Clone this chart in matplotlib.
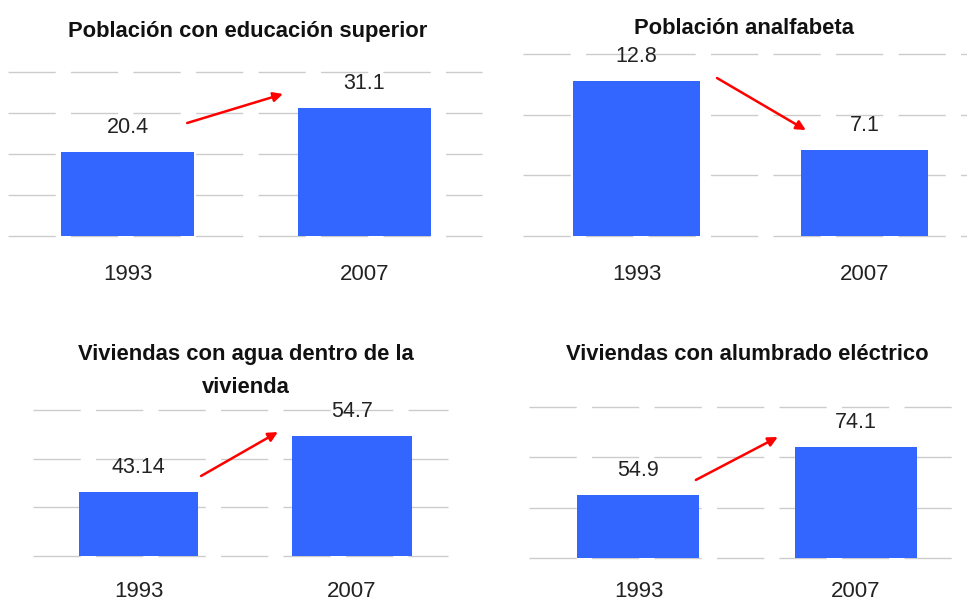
import numpy as np
import matplotlib
matplotlib.use('Agg')
import matplotlib.pyplot as plt

years = ['1993', '2007']
titles = ['Población con educación superior',
          'Población analfabeta',
          'Viviendas con agua dentro de la\nvivienda',
          'Viviendas con alumbrado eléctrico']
educ_superior = [20.4, 31.1]
analfabeta = [12.8, 7.1]
agua_vivienda = [43.14, 54.7]
alumbrado = [54.9, 74.1]
value_labels = [['20.4', '31.1'], ['12.8', '7.1'], ['43.14', '54.7'], ['54.9', '74.1']]

BAR = '#3366ff'
GRID = '#cccccc'
NARROW = ['Liberation Sans Narrow', 'Liberation Sans', 'DejaVu Sans']

W, H = 967, 603
fig = plt.figure(figsize=(W / 100, H / 100), dpi=100)

# panel layout in pixels: (left, top, right, bottom), y range, tick step, x limits
panels = [
    dict(vals=educ_superior, rect=(8, 72, 482, 236), ylim=(0, 40), step=10, xlim=(-0.504, 1.496),
         arrow=((0.378, 0.689), (0.580, 0.866)), title_xy=(248, 37), year_pad=31.5),
    dict(vals=analfabeta, rect=(523, 54, 967, 236), ylim=(0, 15), step=5, xlim=(-0.498, 1.45),
         arrow=((0.437, 0.868), (0.637, 0.582)), title_xy=(744, 34), year_pad=31.5),
    dict(vals=agua_vivienda, rect=(33, 410, 448, 556), ylim=(30, 60), step=10, xlim=(-0.494, 1.45),
         arrow=((0.405, 0.548), (0.590, 0.849)), title_xy=(246, 360), year_pad=29.5),
    dict(vals=alumbrado, rect=(529, 407, 967, 558), ylim=(30, 90), step=20, xlim=(-0.503, 1.51),
         arrow=((0.381, 0.517), (0.568, 0.801)), title_xy=(747, 360), year_pad=28.0),
]

for k, p in enumerate(panels):
    l, t, r, b = p['rect']
    ax = fig.add_axes([l / W, 1 - b / H, (r - l) / W, (b - t) / H])
    ax.set_xlim(*p['xlim'])
    ax.set_ylim(*p['ylim'])
    for s in ax.spines.values():
        s.set_visible(False)
    ax.set_xticks([])
    ax.set_yticks([])
    for yv in np.arange(p['ylim'][0], p['ylim'][1] + p['step'] / 2, p['step']):
        ax.axhline(yv, color=GRID, lw=1.0, dashes=(34, 11), zorder=0, clip_on=False)

    x = np.arange(len(years))
    ax.bar(x, p['vals'], width=0.561, bottom=0, color=BAR, zorder=2)

    for i, v in enumerate(p['vals']):
        ax.annotate(value_labels[k][i], xy=(i, v), xytext=(0, 13.7), textcoords='offset points',
                    ha='center', va='baseline', fontsize=15.5, family=NARROW, color='#222222',
                    annotation_clip=False)
        ax.annotate(years[i], xy=(i, 0), xycoords=('data', 'axes fraction'),
                    xytext=(0, -p['year_pad']), textcoords='offset points',
                    ha='center', va='baseline', fontsize=16, family=NARROW, color='#222222',
                    annotation_clip=False)

    (x0, y0), (x1, y1) = p['arrow']
    ax.annotate('', xy=(x1, y1), xytext=(x0, y0), xycoords='axes fraction',
                arrowprops=dict(arrowstyle='-|>', color='#ff0000', lw=1.8,
                                mutation_scale=14, shrinkA=0, shrinkB=0),
                annotation_clip=False)

    tx, ty = p['title_xy']
    lines = titles[k].split('\n')
    for j, line in enumerate(lines):
        fig.text(tx / W, 1 - (ty + 33 * j) / H, line, ha='center', va='baseline',
                 fontsize=15.8, fontweight='bold', family=['Liberation Sans', 'DejaVu Sans'],
                 color='#111111')

fig.savefig('out.png', dpi=100)
